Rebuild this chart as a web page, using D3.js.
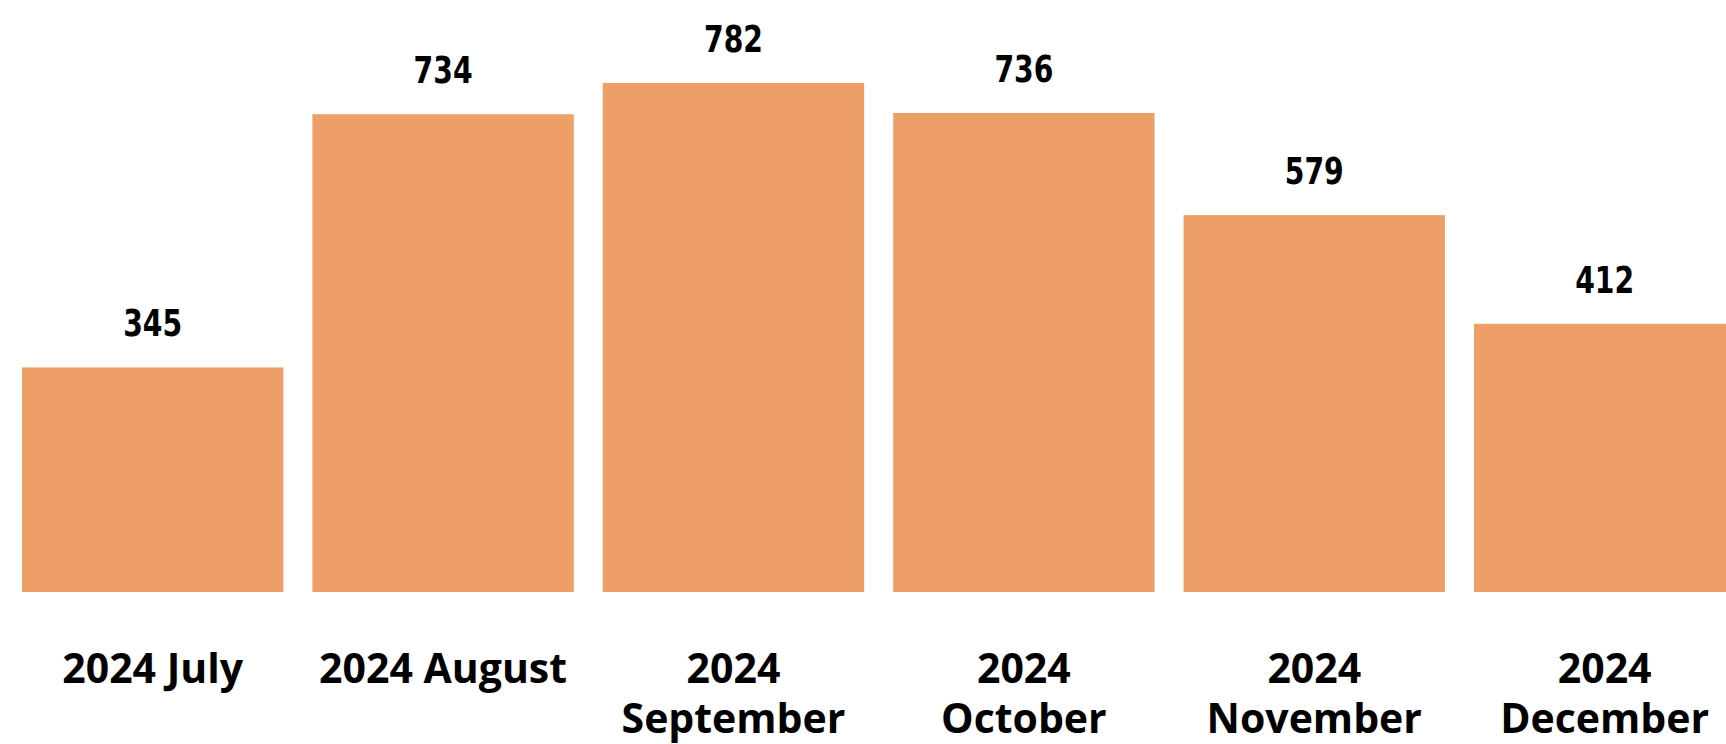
<!DOCTYPE html>
<html>
<head>
<meta charset="utf-8">
<script src="https://cdn.jsdelivr.net/npm/d3@7"></script>
<style>
  body { margin: 0; background: #fff; overflow: hidden; }
</style>
</head>
<body>
<div id="chart-area"></div>
<script>
// data
var months = ['2024 July', '2024 August', '2024 September', '2024 October', '2024 November', '2024 December'];
var counts = [345, 734, 782, 736, 579, 412];

var width = 1726;
var height = 744;
var baseY = 592;

var data = months.map(function (m, i) {
    return { month: m, count: counts[i] };
});

var svg = d3.select('#chart-area')
    .append('svg')
    .attr('width', width)
    .attr('height', height);

var step = 290.4;
var x = d3.scaleBand()
    .domain(months)
    .range([22, 22 + step * 5.9])
    .paddingInner(0.1)
    .paddingOuter(0);

var y = d3.scaleLinear()
    .domain([0, 782])
    .range([baseY, 83]);

svg.selectAll('rect')
    .data(data)
    .enter()
    .append('rect')
    .attr('x', function (d) { return x(d.month); })
    .attr('y', function (d) { return y(d.count); })
    .attr('width', x.bandwidth())
    .attr('height', function (d) { return baseY - y(d.count); })
    .attr('fill', '#ee9e67');

// value labels (condensed look)
svg.selectAll('.value')
    .data(data)
    .enter()
    .append('text')
    .attr('class', 'value')
    .attr('x', function (d) { return x(d.month) + x.bandwidth() / 2; })
    .attr('y', function (d) { return y(d.count) - 31; })
    .attr('text-anchor', 'middle')
    .attr('textLength', function (d) { return String(d.count).length * 20 - 1; })
    .attr('lengthAdjust', 'spacingAndGlyphs')
    .style('font-family', '"DejaVu Sans Condensed", "DejaVu Sans", sans-serif')
    .style('font-weight', 700)
    .style('font-size', '38px')
    .style('fill', '#000')
    .text(function (d) { return d.count; });

// category labels, wrapped to the bar width
var labels = svg.selectAll('.cat')
    .data(data)
    .enter()
    .append('text')
    .attr('class', 'cat')
    .attr('x', function (d) { return x(d.month) + x.bandwidth() / 2; })
    .attr('y', 683)
    .attr('text-anchor', 'middle')
    .style('font-family', '"Open Sans", "Noto Sans", sans-serif')
    .style('font-weight', 700)
    .style('font-size', '41px')
    .style('fill', '#000')
    .text(function (d) { return d.month; });

labels.each(function (d) {
    var t = d3.select(this);
    if (this.getComputedTextLength() <= x.bandwidth()) return;
    var words = d.month.split(' ');
    var cx = t.attr('x');
    t.text(null);
    words.forEach(function (w, i) {
        t.append('tspan')
            .attr('x', cx)
            .attr('dy', i === 0 ? 0 : 50)
            .text(w);
    });
});
</script>
</body>
</html>
